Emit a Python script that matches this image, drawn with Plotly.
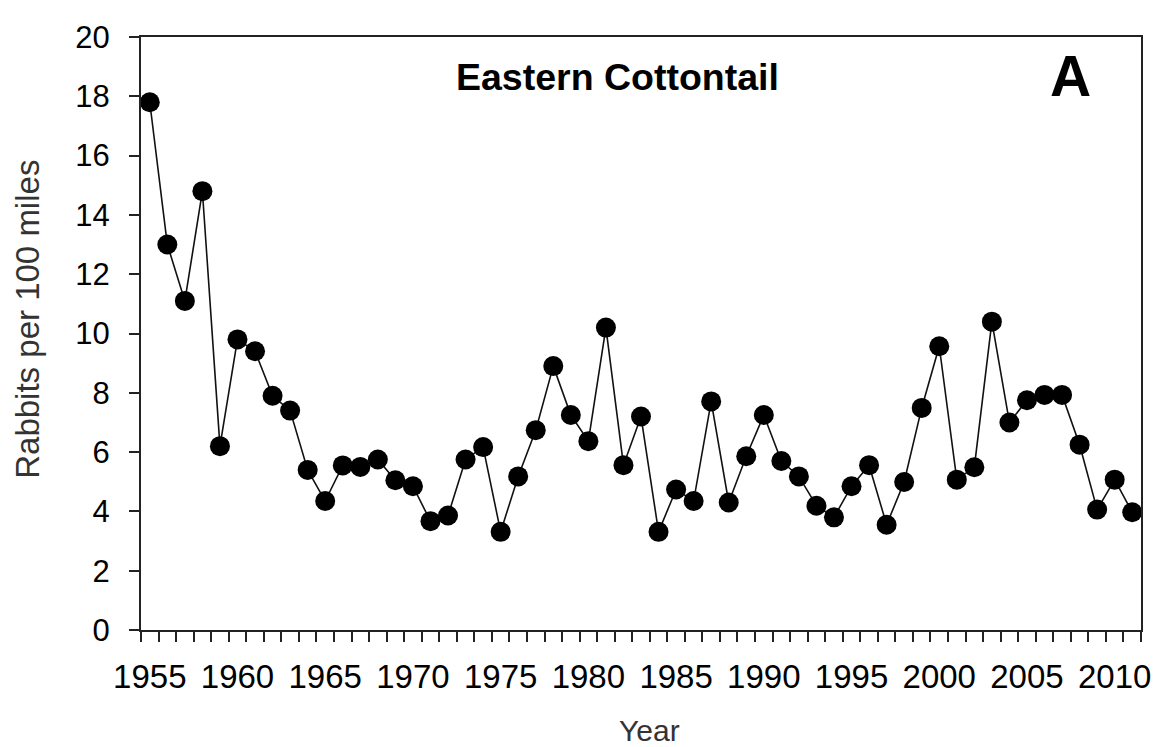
import plotly.graph_objects as go

years = list(range(1955, 2012))
rabbits = [
    17.8, 13.0, 11.1, 14.8, 6.2, 9.8, 9.4, 7.9, 7.4, 5.4,
    4.35, 5.55, 5.5, 5.75, 5.05, 4.85, 3.67, 3.86, 5.75, 6.17,
    3.31, 5.18, 6.74, 8.9, 7.25, 6.37, 10.2, 5.56, 7.2, 3.31,
    4.74, 4.35, 7.71, 4.3, 5.86, 7.25, 5.7, 5.18, 4.19, 3.8,
    4.85, 5.56, 3.55, 4.99, 7.49, 9.57, 5.07, 5.49, 10.4, 7.0,
    7.75, 7.93, 7.93, 6.25, 4.06, 5.07, 3.97,
]
x_tick_labels = [str(y) for y in range(1955, 2011, 5)]
y_ticks = list(range(0, 21, 2))

FONT = "Arial, Liberation Sans, sans-serif"

fig = go.Figure()
fig.add_trace(go.Scatter(
    x=years, y=rabbits, mode="lines+markers",
    line=dict(color="#111111", width=1.6),
    marker=dict(color="#000000", size=20, line=dict(width=0)),
    showlegend=False, cliponaxis=False,
))

fig.update_layout(
    width=1155, height=739,
    margin=dict(l=133, r=18, t=17, b=117),
    paper_bgcolor="white", plot_bgcolor="white",
    font=dict(family=FONT, color="#000000"),
    xaxis=dict(
        range=[years[0] - 0.5, years[-1] + 0.5],
        tickmode="array",
        tickvals=[int(t) for t in x_tick_labels],
        ticktext=x_tick_labels,
        ticks="",
        tickfont=dict(size=33, family=FONT, color="#000000"),
        ticklabelstandoff=16,
        ticklabeloverflow="allow",
        showgrid=False, zeroline=False,
        showline=True, linecolor="#222222", linewidth=2, mirror=True,
        minor=dict(tickmode="linear", tick0=years[0] - 0.5, dtick=1,
                   ticks="outside", ticklen=10, tickwidth=2,
                   tickcolor="#222222", showgrid=False),
    ),
    yaxis=dict(
        range=[y_ticks[0], y_ticks[-1]],
        tickmode="array", tickvals=y_ticks,
        ticks="outside", ticklen=10, tickwidth=2, tickcolor="#222222",
        tickfont=dict(size=31, family=FONT, color="#000000"),
        ticklabelstandoff=13,
        ticklabeloverflow="allow",
        showgrid=False, zeroline=False,
        showline=True, linecolor="#222222", linewidth=2, mirror=True,
    ),
    annotations=[
        dict(text="<b>Eastern Cottontail</b>", xref="paper", yref="paper",
             x=0.476, y=0.933, xanchor="center", yanchor="middle",
             showarrow=False, font=dict(size=37.5, family=FONT, color="#000000")),
        dict(text="<b>A</b>", xref="paper", yref="paper",
             x=0.929, y=0.934, xanchor="center", yanchor="middle",
             showarrow=False, font=dict(size=57, family=FONT, color="#000000")),
        dict(text="Rabbits per 100 miles", xref="paper", yref="paper",
             x=-0.1135, y=0.524, xanchor="center", yanchor="middle",
             textangle=-90, showarrow=False,
             font=dict(size=33, family=FONT, color="#333333")),
        dict(text="Year", xref="paper", yref="paper",
             x=0.508, y=-0.17, xanchor="center", yanchor="middle",
             showarrow=False, font=dict(size=30, family=FONT, color="#333333")),
    ],
)

fig.write_html("out.html")
